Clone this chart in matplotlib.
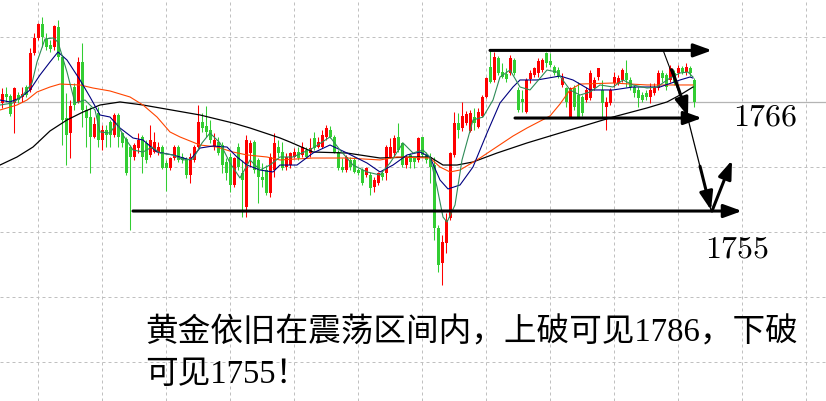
import matplotlib.pyplot as plt
import numpy as np

plt.rcParams['font.family'] = ['Liberation Serif', 'Noto Sans CJK SC']
plt.rcParams['mathtext.fontset'] = 'cm'

# XAUUSD bars (oldest first)
opens = [
    1767.78, 1768.84, 1768.61, 1767.78, 1768.72, 1768.49, 1769.67, 1769.32, 1773.69, 1775.47,
    1777.12, 1775.35, 1774.64, 1774.40, 1776.77, 1773.22, 1766.00, 1764.23, 1769.67, 1767.90,
    1772.63, 1766.95, 1766.12, 1763.76, 1766.59, 1763.40, 1764.58, 1765.53, 1763.99, 1766.36,
    1764.23, 1763.52, 1762.57, 1761.39, 1762.45, 1763.76, 1763.05, 1761.63, 1761.98, 1761.98,
    1762.57, 1760.68, 1760.09, 1761.27, 1762.57, 1761.39, 1761.15, 1759.26, 1761.04, 1762.57,
    1765.53, 1765.06, 1764.58, 1762.57, 1763.16, 1762.81, 1760.80, 1761.39, 1758.08, 1762.57,
    1759.50, 1755.48, 1761.86, 1763.16, 1761.04, 1759.02, 1759.85, 1757.13, 1759.85, 1762.57,
    1761.98, 1760.21, 1760.44, 1761.39, 1761.98, 1761.63, 1762.22, 1761.86, 1763.64, 1762.57,
    1762.57, 1763.76, 1764.58, 1763.76, 1761.98, 1760.21, 1759.85, 1761.04, 1761.04, 1759.85,
    1759.85, 1759.26, 1759.26, 1757.84, 1758.32, 1759.50, 1759.50, 1761.39, 1761.86, 1763.76,
    1763.05, 1760.44, 1761.63, 1761.27, 1761.04, 1763.76, 1761.63, 1761.39, 1760.44, 1752.99,
    1748.85, 1751.22, 1754.18, 1761.63, 1765.41, 1764.82, 1765.41, 1764.47, 1766.12, 1764.94,
    1766.24, 1768.49, 1772.04, 1770.50, 1773.10, 1771.44, 1771.21, 1771.33, 1772.86, 1769.32,
    1768.25, 1766.71, 1770.62, 1771.09, 1771.33, 1771.68, 1773.69, 1772.74, 1772.04, 1771.68,
    1769.91, 1769.55, 1766.12, 1769.55, 1768.72, 1768.49, 1768.13, 1768.37, 1769.55, 1770.85,
    1769.32, 1767.30, 1767.78, 1770.14, 1770.14, 1770.50, 1771.33, 1770.50, 1769.67, 1769.32,
    1768.72, 1768.96, 1768.49, 1768.96, 1769.55, 1771.33, 1771.09, 1770.50, 1771.33, 1771.33,
    1771.92, 1771.44, 1771.92, 1770.50,
]
highs = [
    1769.55, 1769.67, 1768.84, 1769.67, 1769.08, 1769.67, 1769.91, 1774.28, 1776.06, 1777.24,
    1777.95, 1776.06, 1775.23, 1777.00, 1777.59, 1773.45, 1768.96, 1768.13, 1770.14, 1773.22,
    1774.87, 1767.54, 1767.30, 1766.12, 1767.30, 1765.18, 1765.18, 1765.77, 1766.59, 1766.59,
    1764.35, 1763.76, 1762.81, 1763.05, 1764.23, 1763.99, 1763.40, 1765.18, 1764.35, 1763.16,
    1762.81, 1761.04, 1761.39, 1762.81, 1762.81, 1761.86, 1761.39, 1761.86, 1762.81, 1767.54,
    1766.59, 1767.42, 1765.77, 1764.23, 1763.76, 1763.16, 1761.27, 1761.86, 1761.39, 1763.05,
    1761.04, 1763.99, 1763.40, 1763.40, 1761.27, 1760.68, 1760.44, 1761.86, 1764.23, 1763.40,
    1763.16, 1761.86, 1761.98, 1762.45, 1762.57, 1763.16, 1762.57, 1763.64, 1764.35, 1763.76,
    1764.58, 1765.18, 1765.06, 1763.99, 1762.22, 1761.27, 1761.63, 1761.39, 1761.39, 1760.09,
    1760.09, 1760.21, 1759.62, 1759.02, 1759.62, 1759.85, 1762.81, 1763.64, 1763.99, 1765.41,
    1763.16, 1761.63, 1761.86, 1761.39, 1763.76, 1763.76, 1761.98, 1761.86, 1761.39, 1753.35,
    1752.16, 1754.77, 1761.98, 1766.71, 1766.59, 1767.90, 1766.83, 1766.95, 1767.19, 1767.19,
    1768.72, 1770.85, 1774.05, 1773.81, 1773.34, 1772.51, 1771.92, 1773.45, 1773.10, 1769.67,
    1769.32, 1770.73, 1771.68, 1772.04, 1773.10, 1773.10, 1773.81, 1773.69, 1772.27, 1772.04,
    1771.33, 1769.67, 1769.67, 1769.91, 1770.26, 1768.72, 1769.67, 1771.68, 1770.85, 1771.92,
    1770.50, 1768.49, 1769.55, 1771.44, 1771.09, 1771.92, 1772.86, 1770.85, 1769.91, 1769.67,
    1769.08, 1769.32, 1770.14, 1770.14, 1771.68, 1771.68, 1771.33, 1772.27, 1771.68, 1772.27,
    1772.15, 1772.51, 1772.15, 1770.73,
]
lows = [
    1767.19, 1767.90, 1766.24, 1764.23, 1767.78, 1767.90, 1768.49, 1769.08, 1773.45, 1775.23,
    1774.40, 1774.05, 1773.81, 1774.05, 1772.86, 1762.81, 1760.44, 1761.27, 1766.95, 1767.78,
    1764.94, 1762.57, 1759.50, 1763.64, 1762.57, 1762.22, 1762.57, 1762.57, 1763.76, 1762.57,
    1762.57, 1759.26, 1752.76, 1761.04, 1761.86, 1759.50, 1760.68, 1761.39, 1761.86, 1761.63,
    1759.97, 1757.37, 1759.85, 1761.04, 1760.80, 1760.68, 1758.91, 1758.32, 1760.80, 1762.45,
    1764.35, 1763.76, 1763.05, 1762.22, 1761.63, 1759.50, 1758.67, 1757.25, 1757.84, 1759.85,
    1754.29, 1754.29, 1760.21, 1759.50, 1755.95, 1757.84, 1756.90, 1756.66, 1759.02, 1761.39,
    1759.85, 1759.85, 1760.09, 1761.27, 1761.04, 1761.39, 1761.27, 1761.39, 1762.22, 1762.45,
    1762.45, 1763.40, 1763.64, 1761.86, 1759.85, 1759.62, 1759.62, 1759.85, 1759.50, 1759.26,
    1758.08, 1759.02, 1756.90, 1757.25, 1758.08, 1758.67, 1758.67, 1761.27, 1761.39, 1761.98,
    1760.21, 1760.09, 1760.09, 1760.09, 1760.80, 1761.39, 1760.68, 1758.32, 1751.57, 1747.79,
    1746.25, 1750.04, 1753.94, 1761.39, 1763.64, 1764.47, 1765.18, 1764.35, 1764.58, 1764.82,
    1766.12, 1768.37, 1770.14, 1770.26, 1771.09, 1770.73, 1770.26, 1771.09, 1771.09, 1766.71,
    1766.71, 1766.59, 1770.14, 1770.85, 1770.85, 1771.44, 1772.04, 1772.04, 1771.09, 1770.73,
    1769.67, 1767.30, 1766.00, 1766.95, 1766.00, 1766.24, 1767.90, 1768.13, 1769.32, 1770.50,
    1766.12, 1764.58, 1767.54, 1769.67, 1769.91, 1770.26, 1769.67, 1769.32, 1768.49, 1767.30,
    1767.90, 1768.13, 1767.78, 1768.72, 1769.32, 1770.26, 1769.32, 1770.26, 1769.91, 1770.85,
    1771.21, 1771.09, 1770.97, 1767.30,
]
closes = [
    1768.84, 1768.49, 1766.48, 1769.55, 1768.13, 1768.84, 1768.72, 1773.69, 1775.47, 1777.12,
    1775.58, 1774.40, 1774.16, 1776.89, 1773.22, 1765.77, 1763.99, 1767.42, 1767.54, 1772.63,
    1766.95, 1766.00, 1763.76, 1765.29, 1763.40, 1764.58, 1763.99, 1763.99, 1766.36, 1763.76,
    1763.05, 1759.50, 1761.39, 1762.81, 1763.40, 1761.39, 1761.04, 1763.40, 1763.16, 1762.57,
    1760.09, 1760.09, 1761.27, 1762.57, 1761.04, 1761.04, 1759.26, 1761.39, 1762.57, 1765.53,
    1764.82, 1764.35, 1763.40, 1763.40, 1761.86, 1760.44, 1759.50, 1758.08, 1761.27, 1760.21,
    1758.67, 1763.40, 1763.05, 1759.85, 1759.02, 1758.67, 1757.13, 1761.39, 1763.05, 1761.86,
    1760.09, 1761.39, 1761.86, 1761.98, 1761.27, 1762.57, 1761.39, 1762.45, 1762.45, 1763.16,
    1763.99, 1764.82, 1763.76, 1761.98, 1760.09, 1759.85, 1761.39, 1760.21, 1759.62, 1759.50,
    1758.32, 1760.09, 1757.72, 1758.67, 1759.50, 1759.02, 1762.57, 1762.57, 1763.64, 1762.22,
    1760.44, 1761.39, 1760.80, 1760.80, 1763.64, 1761.63, 1761.04, 1760.21, 1752.99, 1748.62,
    1751.34, 1753.94, 1761.86, 1765.41, 1764.58, 1766.24, 1766.48, 1766.59, 1765.41, 1766.71,
    1768.49, 1770.73, 1770.26, 1773.22, 1771.33, 1770.85, 1770.62, 1773.10, 1771.33, 1766.95,
    1767.90, 1770.50, 1771.33, 1771.92, 1772.74, 1772.86, 1772.51, 1772.27, 1771.33, 1770.85,
    1770.73, 1767.90, 1769.55, 1767.30, 1766.12, 1766.59, 1769.32, 1771.33, 1770.50, 1771.92,
    1767.78, 1767.90, 1769.32, 1770.85, 1770.73, 1771.68, 1770.50, 1769.67, 1768.96, 1768.37,
    1768.13, 1768.49, 1769.32, 1769.67, 1771.33, 1770.73, 1769.67, 1771.92, 1770.14, 1771.92,
    1771.44, 1772.04, 1771.33, 1767.90,
]

# moving averages, sampled at bar positions
ma_fast_x = [-0.5, 2.75, 5.25, 7.5, 8.75, 10.75, 12.75, 14, 16.25, 18.25, 20.75, 23.25, 24.5,
             27, 28.75, 30.25, 32.75, 35.25, 37.5, 39.5, 42.75, 45.25, 47.75, 50, 52, 54.5,
             57, 59.5, 62, 64.5, 67, 69.5, 72.75, 77.75, 82, 84.5, 87.75, 91.25, 94.5, 97,
             100.25, 102.75, 105.25, 107, 108.75, 110.25, 111.25, 113.25, 115, 117.75, 120.25,
             122.75, 124.5, 127, 129.5, 132, 136.25, 138.75, 142, 144.5, 147, 149.5, 152.75,
             155.25, 157.75, 161.25, 163.75, 167, 169.5, 171.5, 172.75]
ma_fast = [1767.54, 1767.78, 1768.72, 1770.14, 1772.63, 1775.35, 1775.47, 1774.99, 1771.44,
           1767.78, 1768.13, 1766.95, 1764.35, 1764.23, 1765.41, 1763.99, 1762.22, 1761.98,
           1762.57, 1761.86, 1761.63, 1761.04, 1761.15, 1763.05, 1764.23, 1763.05, 1760.68,
           1758.91, 1761.04, 1759.85, 1760.44, 1761.39, 1761.39, 1762.45, 1763.76, 1762.22,
           1760.44, 1759.62, 1759.26, 1760.68, 1763.05, 1761.86, 1762.22, 1761.39, 1757.84,
           1754.29, 1753.70, 1755.71, 1761.03, 1765.77, 1766.12, 1768.13, 1770.85, 1771.68,
           1769.67, 1769.32, 1771.68, 1771.44, 1769.32, 1768.72, 1769.08, 1769.91, 1769.67,
           1770.50, 1769.91, 1769.55, 1769.67, 1770.73, 1771.33, 1771.44, 1770.85]

ma_mid_x = [-0.5, 2, 4.5, 7, 9.5, 12, 14, 16.25, 19.5, 22, 24.5, 27, 29.5, 32.75, 35.25,
            38.75, 42.75, 47, 49.5, 52.75, 56.25, 58.75, 61.25, 64.5, 67.75, 69.5, 73.75,
            77.75, 82, 86.25, 91.25, 94.5, 97.75, 101.25, 104.5, 107, 109.5, 111.5, 114.5,
            117.75, 121.25, 124.5, 127.75, 129.5, 133.75, 139.5, 142.75, 147, 152.75, 157.75,
            164.5, 169.5, 172, 172.75]
ma_mid = [1768.13, 1767.90, 1768.37, 1769.32, 1771.09, 1772.63, 1773.81, 1772.86, 1770.50,
          1768.49, 1766.36, 1766.12, 1764.82, 1763.64, 1763.40, 1761.98, 1761.63, 1761.04,
          1762.45, 1762.69, 1762.57, 1761.39, 1760.44, 1759.85, 1759.62, 1760.44, 1760.44,
          1761.86, 1762.81, 1761.86, 1760.68, 1759.62, 1760.44, 1761.63, 1761.98, 1761.39,
          1758.67, 1757.61, 1758.08, 1760.21, 1764.23, 1767.78, 1769.67, 1770.50, 1770.50,
          1770.97, 1770.50, 1769.32, 1769.32, 1769.67, 1769.67, 1770.50, 1770.85, 1770.73]

ma_slow_x = [-0.5, 3.75, 6.25, 8.75, 12, 14.5, 19.5, 22.75, 27, 32, 35.25, 38.75, 42, 44.5,
             49.5, 53.75, 57.75, 61.25, 66.25, 69.5, 77.75, 86.25, 94.5, 98.75, 107, 109.5,
             112, 114.5, 119.5, 127.75, 131.25, 137, 139.5, 142, 144.5, 152.75, 161.25, 172.75]
ma_slow = [1766.95, 1767.54, 1768.13, 1769.08, 1769.67, 1770.02, 1769.91, 1769.55, 1769.20,
           1768.49, 1767.54, 1766.12, 1764.35, 1763.76, 1762.81, 1762.57, 1761.98, 1761.63,
           1761.39, 1761.04, 1761.27, 1761.27, 1761.04, 1761.39, 1761.27, 1760.21, 1759.62,
           1759.85, 1761.27, 1763.87, 1764.82, 1766.24, 1767.66, 1769.32, 1770.02, 1770.14,
           1769.91, 1769.91]

ma_long_x = [-0.5, 3.75, 7.75, 12, 16.25, 20.25, 24.5, 29.5, 35.25, 49.5, 57.75, 62, 69.5,
             72, 77.75, 86.25, 94.5, 102.75, 107, 110.25, 113.75, 117.75, 123.75, 131.25,
             139.5, 144.5, 152.75, 161.25, 166.25, 169.5, 172.75]
ma_long = [1760.44, 1761.39, 1762.57, 1764.47, 1765.77, 1766.71, 1767.54, 1767.90, 1767.54,
           1766.36, 1765.41, 1764.82, 1763.64, 1763.16, 1761.98, 1761.86, 1761.27, 1761.39,
           1761.39, 1760.44, 1760.44, 1760.80, 1761.86, 1763.05, 1764.23, 1764.94, 1766.12,
           1767.19, 1767.90, 1768.72, 1769.67]

# hand-drawn range lines: (start bar, end bar, price)
range_top = (122.0, 177.5, 1774.0)
range_mid = (128.25, 175.0, 1766.0)
range_low = (32.75, 185.0, 1755.0)

grid_x = [9 + 16 * k for k in range(13)]
grid_y = [1775.58 - 7.69 * k for k in range(6)]

n = len(closes)
bars = np.arange(n)
o = np.array(opens)
h = np.array(highs)
l = np.array(lows)
c = np.array(closes)
up = c >= o
colors = np.where(up, '#ff0000', '#32cd32')

fig = plt.figure(figsize=(8.26, 4.01), dpi=100)
ax = fig.add_axes([0, 0, 1, 1])
ax.set_xlim(-0.5, 206)
ax.set_ylim(1732.53, 1779.96)
ax.axis('off')

for gx in grid_x:
    ax.axvline(gx, color='#c0c0c0', lw=0.72, ls=(0, (3, 3)), zorder=0)
for gy in grid_y:
    ax.axhline(gy, color='#c0c0c0', lw=0.72, ls=(0, (3, 3)), zorder=0)
# bid line
ax.axhline(closes[-1], color='#b4b4b4', lw=0.9, zorder=0.5)

ax.vlines(bars, l, h, colors=colors, lw=0.75, zorder=2)
body_lo = np.minimum(o, c)
body_h = np.maximum(np.abs(c - o), 0.12)
ax.bar(bars, body_h, bottom=body_lo, width=0.75, color=colors, linewidth=0, zorder=2)

ax.plot(ma_long_x, ma_long, color='black', lw=0.9, zorder=3)
ax.plot(ma_slow_x, ma_slow, color='#ff4500', lw=0.8, zorder=3)
ax.plot(ma_mid_x, ma_mid, color='#000080', lw=0.8, zorder=3)
ax.plot(ma_fast_x, ma_fast, color='#2e8b57', lw=0.8, zorder=3)

arrow = dict(arrowstyle='-|>,head_length=1.1,head_width=0.4', lw=2.2, color='black',
             shrinkA=0, shrinkB=0)
for x0, x1, p in (range_top, range_mid, range_low):
    ax.annotate('', xy=(x1, p), xytext=(x0, p), arrowprops=arrow, zorder=4)

# breakdown path
ax.plot([165.25, 171.5], [1774.05, 1766.2], color='black', lw=0.8, zorder=4)
ax.annotate('', xy=(171.5, 1766.2), xytext=(167.5, 1771.7), arrowprops=arrow, zorder=4)
ax.plot([171.5, 177.25], [1765.9, 1755.1], color='black', lw=0.9, zorder=4)
ax.annotate('', xy=(177.25, 1755.1), xytext=(174.5, 1760.3), arrowprops=arrow, zorder=4)
ax.annotate('', xy=(182.5, 1761.0), xytext=(177.5, 1755.0), arrowprops=arrow, zorder=4)

ax.text(190.75, range_mid[2], r'$1766$', fontsize=23, ha='center', va='center', zorder=5)
ax.text(183.75, 1750.4, r'$1755$', fontsize=23, ha='center', va='center', zorder=5)

fig.text(145 / 826, 1 - 317 / 401, '黄金依旧在震荡区间内，上破可见1786，下破',
         fontsize=23.5, fontweight='light', ha='left', va='top')
fig.text(145 / 826, 1 - 359 / 401, '可见1755！', fontsize=23.5, fontweight='light',
         ha='left', va='top')

fig.savefig('out.png', dpi=100, facecolor='white')
